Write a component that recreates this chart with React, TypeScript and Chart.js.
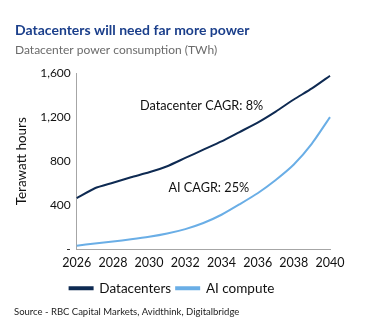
import React, { useEffect, useRef } from "react";
import { Chart, registerables } from "chart.js";

Chart.register(...registerables);

const years = ["2026","2027","2028","2029","2030","2031","2032","2033","2034","2035","2036","2037","2038","2039","2040"];
const datacenters = [465, 555, 605, 655, 700, 755, 830, 905, 980, 1065, 1150, 1250, 1360, 1460, 1575];
const aiCompute = [35, 55, 72, 92, 115, 145, 185, 240, 315, 410, 510, 630, 770, 960, 1200];
const yTicks = [0, 400, 800, 1200, 1600];

const titleText = "Datacenters will need far more power";
const subtitleText = "Datacenter power consumption (TWh)";
const sourceText = "Source - RBC Capital Markets, Avidthink, Digitalbridge";
// annotation centred at a (fractional) position along the year axis
const annotations = [
  { text: "Datacenter CAGR: 8%", yearPos: 6.9, value: 1300 },
  { text: "AI CAGR: 25%", yearPos: 7.3, value: 555 },
];

const FONT = "Lato, sans-serif";
const NAVY = "#0e2a52";
const LIGHT = "#6aaee6";

export default function App() {
  const ref = useRef<HTMLCanvasElement | null>(null);
  useEffect(() => {
    if (!ref.current) return;
    const textPlugin = {
      id: "texts",
      afterDraw(chart: any) {
        const ctx = chart.ctx;
        ctx.save();
        ctx.textBaseline = "alphabetic";
        ctx.textAlign = "left";
        ctx.fillStyle = "#1b3f8b";
        ctx.font = `bold 14px ${FONT}`;
        ctx.fillText(titleText, 15, 35);
        ctx.fillStyle = "#6b6b6b";
        ctx.font = `12px ${FONT}`;
        ctx.fillText(subtitleText, 15, 54);
        ctx.fillStyle = "#222";
        ctx.font = `9.5px ${FONT}`;
        ctx.fillText(sourceText, 14, 315);
        const xs = chart.scales.x;
        const ys = chart.scales.y;
        ctx.fillStyle = "#111";
        ctx.font = `12.7px ${FONT}`;
        ctx.textBaseline = "middle";
        ctx.textAlign = "center";
        for (const a of annotations) {
          const i0 = Math.floor(a.yearPos);
          const f = a.yearPos - i0;
          const p0 = xs.getPixelForValue(i0);
          const p1 = xs.getPixelForValue(Math.min(i0 + 1, years.length - 1));
          const px = p0 + (p1 - p0) * f;
          const py = ys.getPixelForValue(a.value);
          ctx.fillText(a.text, px, py);
        }
        ctx.restore();
      },
    };
    const chart = new Chart(ref.current, {
      type: "line",
      data: {
        labels: years,
        datasets: [
          { label: "Datacenters", data: datacenters, borderColor: NAVY, backgroundColor: NAVY, borderWidth: 2, pointRadius: 0, tension: 0.2 },
          { label: "AI compute", data: aiCompute, borderColor: LIGHT, backgroundColor: LIGHT, borderWidth: 2, pointRadius: 0, tension: 0.2 },
        ],
      },
      options: {
        animation: false,
        responsive: false,
        layout: { padding: { top: 73, left: 14, right: 62, bottom: 23 } },
        plugins: {
          legend: {
            position: "bottom",
            labels: { boxWidth: 23, boxHeight: 2, color: "#111", font: { family: FONT, size: 13.5 }, padding: 5 },
          },
          tooltip: { enabled: false },
        },
        scales: {
          x: {
            grid: { display: false, drawTicks: false, tickLength: 0 },
            border: { display: true, color: "#a6a6a6", width: 1 },
            ticks: {
              autoSkip: false,
              maxRotation: 0,
              padding: 6,
              color: "#111",
              font: { family: FONT, size: 12.5 },
              callback: (v: any, i: number) => (i % 2 === 0 ? years[i] : ""),
            },
          },
          y: {
            min: 0,
            max: 1600,
            afterBuildTicks: (axis: any) => { axis.ticks = yTicks.map((v) => ({ value: v })); },
            grid: { display: false, drawTicks: false, tickLength: 0 },
            border: { display: true, color: "#a6a6a6", width: 1 },
            title: { display: true, text: "Terawatt hours", color: "#111", font: { family: FONT, size: 13.5 }, padding: { top: 0, bottom: 4 } },
            ticks: {
              color: "#111",
              font: { family: FONT, size: 12 },
              padding: 6,
              callback: (v: any) => (v === 0 ? "-" : Number(v).toLocaleString("en-US")),
            },
          },
        },
      },
      plugins: [textPlugin],
    });
    return () => chart.destroy();
  }, []);
  return (
    <div style={{ position: "absolute", left: 0, top: 0, width: 392, height: 328, background: "#fff" }}>
      <canvas ref={ref} width={392} height={328} style={{ width: 392, height: 328 }} />
    </div>
  );
}
